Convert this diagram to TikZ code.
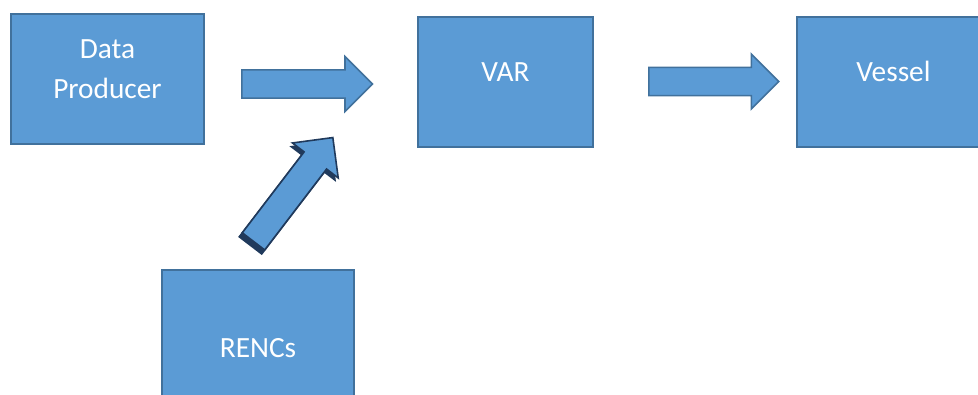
\documentclass[tikz,border=0pt]{standalone}
\usepackage{fontspec}
\setmainfont{Carlito}
\usetikzlibrary{shapes.arrows}
\definecolor{boxblue}{HTML}{5B9BD5}
\definecolor{boxline}{HTML}{41719C}
\definecolor{navy}{HTML}{203A5C}

\tikzset{
  block/.style={draw=boxline, line width=1.5pt, fill=boxblue, text=white,
    font=\fontsize{22}{30}\selectfont, align=center, inner sep=0pt,
    minimum height=97.5pt},
  fatarrow/.style={single arrow, draw=boxline, line width=1.2pt, fill=boxblue,
    anchor=tail, inner sep=10pt, single arrow head extend=10pt,
    minimum height=98pt}
}

\begin{document}
\begin{tikzpicture}[x=0.75pt, y=-0.75pt]
    \useasboundingbox (0,0) rectangle (978,394);
    \node[block, minimum width=144.75pt, text depth=15pt] (prod) at (107.5,79) {Data\\Producer};
    \node[block, minimum width=131.25pt, text height=14pt, text depth=15pt] (var) at (505.5,82) {VAR};
    \node[block, minimum width=144.75pt, text height=14pt, text depth=15pt] (vessel) at (893.5,82) {Vessel};
    \node[block, minimum width=144pt, text height=33pt, text depth=0pt] (rencs) at (258,335) {RENCs};
    \node[fatarrow] (arr1) at (241,84) {};
    \node[fatarrow, minimum height=97.5pt] (arr2) at (648,81.5) {};
    \node[fatarrow, fill=navy, draw=navy, rotate=52.6] (arr3s) at (250,246) {};
    \node[fatarrow, draw=navy, rotate=52.6, single arrow head extend=11pt] (arr3) at (253,242) {};
\end{tikzpicture}
\end{document}
